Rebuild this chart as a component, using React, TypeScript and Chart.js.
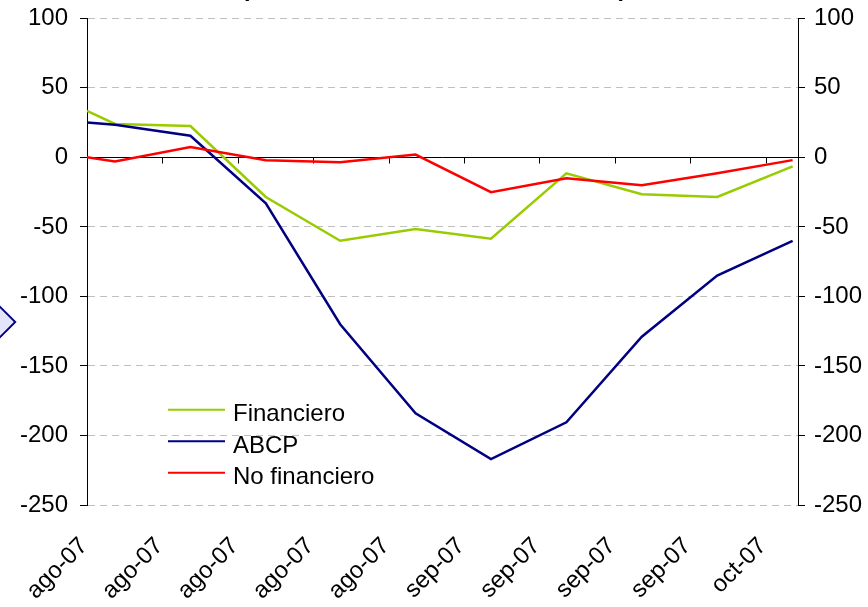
import React, { useEffect, useRef } from "react";
import { Chart, registerables } from "chart.js";

Chart.register(...registerables);

// ---------- data ----------
const chartTitle = "(variación de saldos acumulados)";
const seriesNames = ["Financiero", "ABCP", "No financiero"];
// observation dates, in days from the first axis tick
const obsDays = [0, 2.6, 9.6, 16.6, 23.5, 30.5, 37.5, 44.5, 51.5, 58.5, 65.5];
const financiero = [33.5, 24, 22.5, -28.5, -60, -51.5, -58.5, -11.5, -26.5, -28.5, -6.5];
const abcp = [25, 23.5, 15.5, -33, -120, -184, -217, -190.5, -129, -85, -60];
const noFinanciero = [0, -3, 7.5, -2, -3.5, 2, -25, -15, -20, -11.5, -2];
const xTickLabels = ["ago-07", "ago-07", "ago-07", "ago-07", "ago-07", "sep-07", "sep-07", "sep-07", "sep-07", "oct-07"];
const xTickStep = 7;
const xMin = 0;
const xMax = 66;
const yMin = -250;
const yMax = 100;
const yStep = 50;

const seriesColors = ["#99CC00", "#000080", "#FF0000"];
const FONT = "'Liberation Sans', Arial, sans-serif";

const toPoints = (vals: number[]) => vals.map((v, i) => ({ x: obsDays[i], y: v }));

const zeroAxisPlugin = {
  id: "zeroAxis",
  beforeDatasetsDraw(chart: any) {
    const { ctx, chartArea, scales } = chart;
    const x = scales.x;
    const y = scales.y;
    const y0 = Math.round(y.getPixelForValue(0)) + 0.5;
    ctx.save();
    ctx.strokeStyle = "#000";
    ctx.lineWidth = 1;
    ctx.setLineDash([]);
    ctx.beginPath();
    ctx.moveTo(chartArea.left, y0);
    ctx.lineTo(chartArea.right, y0);
    x.ticks.forEach((t: any) => {
      const px = Math.round(x.getPixelForValue(t.value)) + 0.5;
      ctx.moveTo(px, y0);
      ctx.lineTo(px, y0 + 6);
    });
    ctx.stroke();
    ctx.restore();
  },
};

const lineLegendPlugin = {
  id: "lineLegend",
  afterDatasetsDraw(chart: any, _args: any, opts: any) {
    const { ctx, chartArea } = chart;
    const x0 = chartArea.left + opts.left;
    let yy = chartArea.top + opts.top;
    ctx.save();
    chart.data.datasets.forEach((ds: any) => {
      ctx.strokeStyle = ds.borderColor;
      ctx.lineWidth = 2;
      ctx.beginPath();
      ctx.moveTo(x0, yy);
      ctx.lineTo(x0 + opts.lineLength, yy);
      ctx.stroke();
      ctx.fillStyle = "#000";
      ctx.font = `${opts.fontSize}px ${FONT}`;
      ctx.textBaseline = "alphabetic";
      ctx.textAlign = "left";
      ctx.fillText(ds.label, x0 + opts.lineLength + opts.gap, yy + opts.textDy);
      yy += opts.rowHeight;
    });
    ctx.restore();
  },
};

export default function App() {
  const ref = useRef<HTMLCanvasElement>(null);

  useEffect(() => {
    if (!ref.current) return;
    const datasets = [financiero, abcp, noFinanciero].map((vals, i) => ({
      label: seriesNames[i],
      data: toPoints(vals),
      borderColor: seriesColors[i],
      backgroundColor: seriesColors[i],
      borderWidth: 2.5,
      pointRadius: 0,
      tension: 0,
      fill: false,
      order: 2 - i,
    }));

    const tickFont = { family: FONT, size: 24 };

    const chart = new Chart(ref.current, {
      type: "line",
      data: { datasets },
      plugins: [zeroAxisPlugin, lineLegendPlugin],
      options: {
        responsive: false,
        animation: false,
        events: [],
        layout: { padding: 0 },
        plugins: {
          legend: { display: false },
          tooltip: { enabled: false },
          title: {
            display: true,
            text: chartTitle,
            color: "#000",
            font: { family: FONT, size: 24, weight: "bold" },
            padding: { top: 2, bottom: 14.5 },
          },
          lineLegend: {
            left: 81,
            top: 391.5,
            lineLength: 57,
            gap: 8,
            rowHeight: 31.5,
            textDy: 11.5,
            fontSize: 24,
          },
        } as any,
        scales: {
          x: {
            type: "linear",
            min: xMin,
            max: xMax,
            afterFit: (s: any) => {
              s.height = 102;
            },
            grid: { display: false, drawTicks: false },
            border: { display: false },
            ticks: {
              stepSize: xTickStep,
              includeBounds: false,
              autoSkip: false,
              maxRotation: 45,
              minRotation: 45,
              padding: 27,
              labelOffset: -3,
              color: "#000",
              font: { family: FONT, size: 24 },
              callback: (v: any) => {
                const idx = Math.round((Number(v) - xMin) / xTickStep);
                if (Math.abs(Number(v) - xMin - idx * xTickStep) > 1e-6) return null;
                return xTickLabels[idx] ?? null;
              },
            },
          },
          y: {
            position: "left",
            min: yMin,
            max: yMax,
            afterFit: (s: any) => {
              s.width = 87;
            },
            ticks: { stepSize: yStep, padding: 12, color: "#000", font: tickFont },
            grid: { color: "#C0C0C0", lineWidth: 1, tickColor: "#000", tickLength: 7 },
            border: { color: "#000", width: 1, dash: [7, 5] },
          },
          y2: {
            position: "right",
            min: yMin,
            max: yMax,
            afterFit: (s: any) => {
              s.width = 70;
            },
            ticks: { stepSize: yStep, padding: 9, color: "#000", font: tickFont },
            grid: { drawOnChartArea: false, tickColor: "#000", tickLength: 7 },
            border: { color: "#000", width: 1 },
          },
        },
      } as any,
    });
    return () => chart.destroy();
  }, []);

  return (
    <div
      style={{
        position: "absolute",
        left: 0,
        top: 0,
        width: 868,
        height: 607,
        overflow: "hidden",
        background: "#fff",
      }}
    >
      <canvas
        ref={ref}
        width={868}
        height={634}
        style={{ position: "absolute", left: 0, top: -27, width: 868, height: 634 }}
      />
      <div
        style={{
          position: "absolute",
          left: -51,
          top: 294,
          width: 56,
          height: 56,
          boxSizing: "border-box",
          border: "2px solid #000080",
          background: "#E4E4FA",
          transform: "rotate(45deg)",
        }}
      />
    </div>
  );
}
